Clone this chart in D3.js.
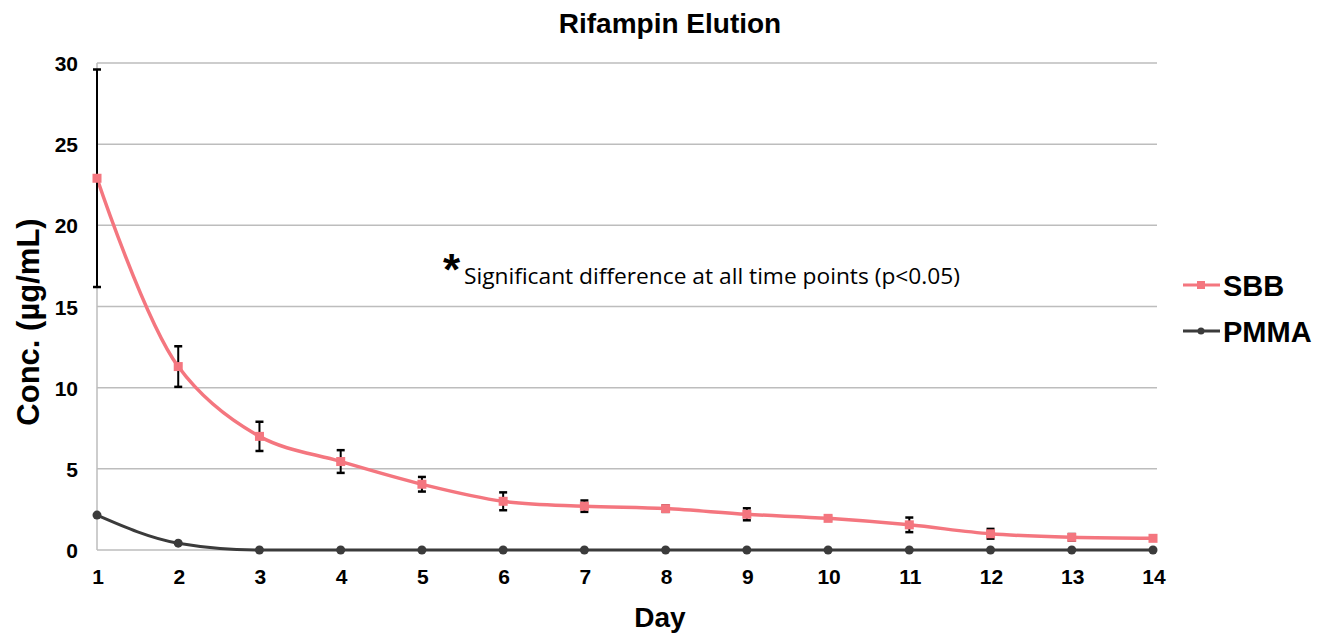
<!DOCTYPE html>
<html>
<head>
<meta charset="utf-8">
<script src="https://cdn.jsdelivr.net/npm/d3@7"></script>
<style>
  body { margin: 0; background: #fff; }
  text { font-family: Arial, "Liberation Sans", sans-serif; }
</style>
</head>
<body>
<div id="chart"></div>
<script>
var days = [1, 2, 3, 4, 5, 6, 7, 8, 9, 10, 11, 12, 13, 14];
var sbb = [22.9, 11.3, 7.0, 5.45, 4.05, 3.0, 2.7, 2.55, 2.2, 1.95, 1.55, 1.0, 0.78, 0.72];
var sbbErr = [6.7, 1.25, 0.9, 0.7, 0.45, 0.55, 0.35, 0.2, 0.37, 0.15, 0.45, 0.3, 0.2, 0.05];
var pmma = [2.15, 0.42, 0, 0, 0, 0, 0, 0, 0, 0, 0, 0, 0, 0];
var yTicks = [0, 5, 10, 15, 20, 25, 30];

var width = 1327, height = 637;
var margin = {left: 97, right: 172, top: 63, bottom: 87};

var svg = d3.select('#chart')
    .append('svg')
    .attr('width', width)
    .attr('height', height);

var x = d3.scaleLinear().domain([1, 14]).range([margin.left, width - margin.right - 2]);
var y = d3.scaleLinear().domain([0, 30]).range([height - margin.bottom, margin.top]);

// grid
svg.append('g')
    .selectAll('line')
    .data(yTicks)
    .enter().append('line')
    .attr('x1', margin.left)
    .attr('x2', width - margin.right + 2)
    .attr('y1', function(d) { return y(d); })
    .attr('y2', function(d) { return y(d); })
    .attr('stroke', '#bdbdbd')
    .attr('stroke-width', 1.5);

svg.append('line')
    .attr('x1', margin.left).attr('x2', margin.left)
    .attr('y1', y(30)).attr('y2', y(0))
    .attr('stroke', '#bdbdbd')
    .attr('stroke-width', 1.5);

// y tick labels
svg.append('g')
    .selectAll('text')
    .data(yTicks)
    .enter().append('text')
    .attr('x', 78)
    .attr('y', function(d) { return y(d) + 8; })
    .attr('text-anchor', 'end')
    .attr('font-size', '21px')
    .attr('font-weight', 'bold')
    .text(function(d) { return d; });

// x tick labels
svg.append('g')
    .selectAll('text')
    .data(days)
    .enter().append('text')
    .attr('x', function(d) { return x(d) + 1; })
    .attr('y', 584)
    .attr('text-anchor', 'middle')
    .attr('font-size', '21px')
    .attr('font-weight', 'bold')
    .text(function(d) { return d; });

// titles
svg.append('text')
    .attr('x', 670).attr('y', 33)
    .attr('text-anchor', 'middle')
    .attr('font-size', '28px')
    .attr('font-weight', 'bold')
    .text('Rifampin Elution');

svg.append('text')
    .attr('x', 660).attr('y', 627)
    .attr('text-anchor', 'middle')
    .attr('font-size', '28px')
    .attr('font-weight', 'bold')
    .text('Day');

svg.append('text')
    .attr('transform', 'translate(39,' + 322 + ') rotate(-90)')
    .attr('text-anchor', 'middle')
    .attr('font-size', '31px')
    .attr('font-weight', 'bold')
    .text('Conc. (µg/mL)');

// annotation
svg.append('text')
    .attr('x', 443).attr('y', 285)
    .attr('font-size', '44px')
    .attr('font-weight', 'bold')
    .text('*');
svg.append('text')
    .attr('x', 464).attr('y', 284)
    .attr('font-size', '21px')
    .attr('textLength', 496)
    .attr('lengthAdjust', 'spacingAndGlyphs')
    .style('font-family', '"Open Sans", sans-serif')
    .text('Significant difference at all time points (p<0.05)');

var line = d3.line()
    .x(function(d) { return x(d[0]); })
    .y(function(d) { return y(d[1]); });

var pmmaPts = days.map(function(d, i) { return [d, pmma[i]]; });
var sbbPts = days.map(function(d, i) { return [d, sbb[i], sbbErr[i]]; });

var pink = '#f4767f', dark = '#3b3b3b';

svg.append('path')
    .datum(pmmaPts)
    .attr('d', line.curve(d3.curveMonotoneX))
    .attr('fill', 'none')
    .attr('stroke', dark)
    .attr('stroke-width', 3);
svg.append('g')
    .selectAll('circle')
    .data(pmmaPts)
    .enter().append('circle')
    .attr('cx', function(d) { return x(d[0]); })
    .attr('cy', function(d) { return y(d[1]); })
    .attr('r', 4.5)
    .attr('fill', dark);

svg.append('path')
    .datum(sbbPts)
    .attr('d', line.curve(d3.curveCatmullRom.alpha(0.5)))
    .attr('fill', 'none')
    .attr('stroke', pink)
    .attr('stroke-width', 3.5);

// error bars
var eb = svg.append('g').attr('stroke', '#000').attr('stroke-width', 2);
sbbPts.forEach(function(d) {
  var cx = x(d[0]);
  eb.append('line')
      .attr('x1', cx).attr('x2', cx)
      .attr('y1', y(d[1] - d[2])).attr('y2', y(d[1] + d[2]));
  [d[1] - d[2], d[1] + d[2]].forEach(function(v) {
    eb.append('line')
        .attr('x1', cx - 4).attr('x2', cx + 4)
        .attr('y1', y(v)).attr('y2', y(v))
        .attr('stroke-width', 2.5);
  });
});

svg.append('g')
    .selectAll('rect')
    .data(sbbPts)
    .enter().append('rect')
    .attr('x', function(d) { return x(d[0]) - 4.5; })
    .attr('y', function(d) { return y(d[1]) - 4.5; })
    .attr('width', 9)
    .attr('height', 9)
    .attr('fill', pink);

// legend
var legend = [
  {name: 'SBB', color: pink, y: 285, shape: 'rect'},
  {name: 'PMMA', color: dark, y: 331, shape: 'circle'}
];
legend.forEach(function(l) {
  var g = svg.append('g');
  g.append('line')
      .attr('x1', 1183).attr('x2', 1220)
      .attr('y1', l.y).attr('y2', l.y)
      .attr('stroke', l.color)
      .attr('stroke-width', 3);
  if (l.shape === 'rect') {
    g.append('rect').attr('x', 1197).attr('y', l.y - 4).attr('width', 8).attr('height', 8).attr('fill', l.color);
  } else {
    g.append('circle').attr('cx', 1201).attr('cy', l.y).attr('r', 3.5).attr('fill', l.color);
  }
  g.append('text')
      .attr('x', 1223).attr('y', l.y + 11)
      .attr('font-size', '29px')
      .attr('font-weight', 'bold')
      .text(l.name);
});
</script>
</body>
</html>
